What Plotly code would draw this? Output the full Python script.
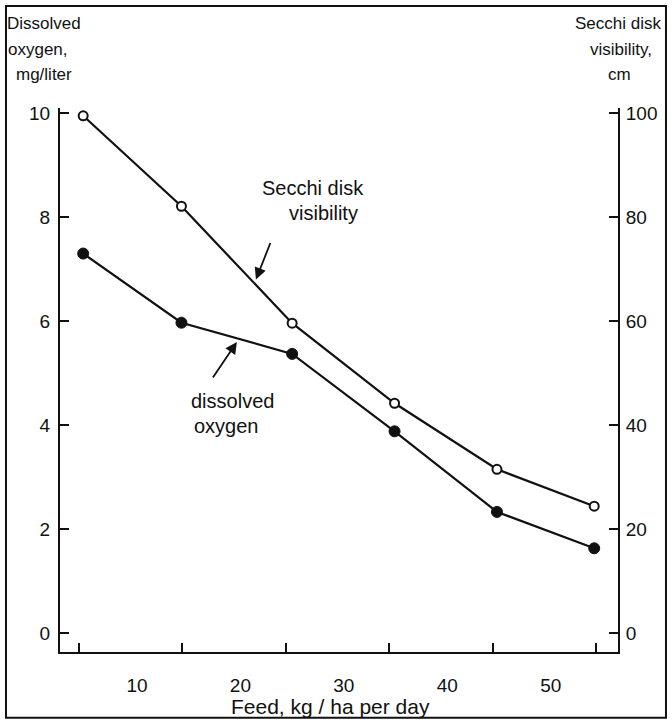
import plotly.graph_objects as go

# ---- data ----
feed = [4.8, 14.3, 25.0, 34.9, 44.8, 54.2]          # kg/ha per day
dissolved_oxygen = [7.3, 5.97, 5.37, 3.88, 2.33, 1.63]   # mg/liter
secchi_cm = [99.5, 82.1, 59.6, 44.2, 31.5, 24.4]         # cm

x_tick_vals = [10, 20, 30, 40, 50]
x_tick_text = ["10", "20", "30", "40", "50"]
do_tick_vals = [0, 2, 4, 6, 8, 10]
secchi_tick_vals = [0, 20, 40, 60, 80, 100]

FONT = "Liberation Sans"
BLACK = "#111111"

fig = go.Figure()

fig.add_trace(go.Scatter(
    x=feed, y=dissolved_oxygen, mode="lines+markers",
    line=dict(color=BLACK, width=2.2),
    marker=dict(symbol="circle", size=11, color=BLACK, line=dict(color=BLACK, width=1)),
    yaxis="y", showlegend=False, hoverinfo="skip"))

fig.add_trace(go.Scatter(
    x=feed, y=secchi_cm, mode="lines+markers",
    line=dict(color=BLACK, width=2.2),
    marker=dict(symbol="circle", size=9, color="white", line=dict(color=BLACK, width=2)),
    yaxis="y2", showlegend=False, hoverinfo="skip"))

axis_font = dict(family=FONT, size=19, color=BLACK)

fig.update_layout(
    width=672, height=724,
    margin=dict(l=60, r=54, t=108, b=72),
    paper_bgcolor="white", plot_bgcolor="white",
    font=dict(family=FONT, color=BLACK),
    xaxis=dict(
        range=[2.56, 56.5], tickvals=x_tick_vals, ticktext=x_tick_text,
        ticks="", showgrid=False, zeroline=False,
        showline=True, linecolor=BLACK, linewidth=2,
        tickfont=axis_font, ticklabelstandoff=15,
        minor=dict(tick0=4.4, dtick=10, ticks="inside", ticklen=9,
                   tickwidth=2, tickcolor=BLACK, showgrid=False),
    ),
    yaxis=dict(
        range=[-0.365, 10.1], tickvals=do_tick_vals,
        ticks="inside", ticklen=9, tickwidth=2, tickcolor=BLACK,
        showgrid=False, zeroline=False,
        showline=True, linecolor=BLACK, linewidth=2,
        tickfont=axis_font, ticklabelstandoff=4,
    ),
    yaxis2=dict(
        range=[-3.65, 101], tickvals=secchi_tick_vals, overlaying="y", side="right",
        ticks="inside", ticklen=9, tickwidth=2, tickcolor=BLACK,
        showgrid=False, zeroline=False,
        showline=True, linecolor=BLACK, linewidth=2,
        tickfont=axis_font, ticklabelstandoff=2,
    ),
)

# outer frame
fig.add_shape(type="rect", xref="paper", yref="paper",
              x0=-0.0968, x1=1.086, y0=-0.121, y1=1.1875,
              line=dict(color=BLACK, width=2), fillcolor="rgba(0,0,0,0)", layer="above")

def paper_text(text, px, py, size=17):
    fig.add_annotation(text=text, xref="paper", yref="paper",
                       x=(px - 60) / 558, y=(652 - py) / 544,
                       xanchor="center", yanchor="middle", showarrow=False,
                       font=dict(family=FONT, size=size, color=BLACK))

# left axis title
paper_text("Dissolved", 44, 23)
paper_text("oxygen,", 38, 49)
paper_text("mg/liter", 44, 74)
# right axis title
paper_text("Secchi disk", 618, 23)
paper_text("visibility,", 621, 49)
paper_text("cm", 619, 74)
# x axis title
paper_text("Feed, kg / ha per day", 330, 706, size=21)

in_font = dict(family=FONT, size=20, color=BLACK)
# in-plot labels (data coords, left axis)
fig.add_annotation(text="Secchi disk", x=27.0, y=8.56, showarrow=False, font=in_font)
fig.add_annotation(text="visibility", x=28.0, y=8.08, showarrow=False, font=in_font)
fig.add_annotation(text="dissolved", x=19.2, y=4.46, showarrow=False, font=in_font)
fig.add_annotation(text="oxygen", x=18.7, y=3.98, showarrow=False, font=in_font)

# arrows
fig.add_annotation(x=21.5, y=6.8, ax=15, ay=-38, text="", showarrow=True,
                   arrowhead=2, arrowsize=1.3, arrowwidth=1.8, arrowcolor=BLACK)
fig.add_annotation(x=19.66, y=5.6, ax=-25, ay=37, text="", showarrow=True,
                   arrowhead=2, arrowsize=1.3, arrowwidth=1.8, arrowcolor=BLACK)

fig.write_html("out.html", config={"displayModeBar": False},
               post_script="document.body.style.margin='0';")
